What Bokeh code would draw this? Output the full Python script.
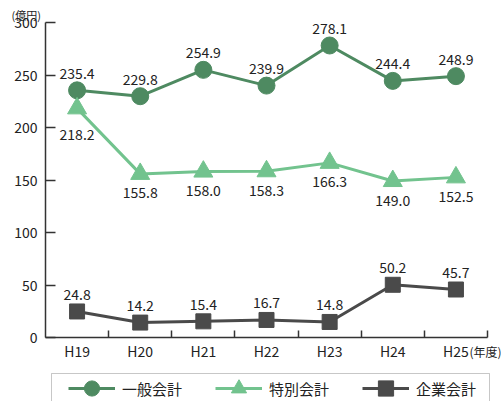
from bokeh.plotting import figure
from bokeh.models import (Range1d, FixedTicker, ColumnDataSource, LinearAxis,
                          LabelSet, Label, Legend, LegendItem, BoxAnnotation)
from bokeh.embed import file_html
from bokeh.resources import INLINE
from bokeh.core.properties import value

years = ["H19", "H20", "H21", "H22", "H23", "H24", "H25"]
general = [235.4, 229.8, 254.9, 239.9, 278.1, 244.4, 248.9]
special = [218.2, 155.8, 158.0, 158.3, 166.3, 149.0, 152.5]
enterprise = [24.8, 14.2, 15.4, 16.7, 14.8, 50.2, 45.7]
series_names = ["一般会計", "特別会計", "企業会計"]
y_ticks = [0, 50, 100, 150, 200, 250, 300]
y_unit = "(億円)"
x_unit = "(年度)"

FONT = "Noto Sans CJK JP"
C_GEN = "#4e8a61"
C_SPE = "#72c38e"
C_ENT = "#4a4a4a"
TXT = "#222222"
AX = "#333333"

n = len(years)
xpos = [i + 0.5 for i in range(n)]          # category centres
bounds = [i for i in range(1, n + 1)]       # category boundaries

W, H = 501, 401
# plot area: x 0..n spans px 45..487, y 0..300 spans px 337..22
px_x = (487 - 45) / n
px_y = (337 - 22) / 300
x_rng = Range1d(-45 / px_x, n + (W - 487) / px_x)
y_rng = Range1d(-(H - 337) / px_y, 300 + 22 / px_y)

p = figure(x_range=x_rng, y_range=y_rng, width=W, height=H,
           min_border=0, x_axis_type=None, y_axis_type=None,
           output_backend="svg", toolbar_location=None)
p.outline_line_color = None
p.grid.visible = False

yax = LinearAxis(fixed_location=0, bounds=(0, 300),
                 ticker=FixedTicker(ticks=y_ticks))
yax.major_tick_in = 10
yax.major_tick_out = 0
yax.minor_tick_line_color = None
yax.axis_line_color = AX
yax.axis_line_width = 1.5
yax.major_tick_line_color = AX
yax.major_tick_line_width = 1.5
yax.major_label_text_font = FONT
yax.major_label_text_font_size = "14px"
yax.major_label_text_color = TXT
yax.major_label_standoff = 8
p.add_layout(yax, "left")

xax = LinearAxis(fixed_location=0, bounds=(0, n),
                 ticker=FixedTicker(ticks=xpos, minor_ticks=bounds),
                 major_label_overrides={x: y for x, y in zip(xpos, years)})
xax.major_tick_line_color = None
xax.major_tick_in = 0
xax.major_tick_out = 0
xax.minor_tick_in = 7
xax.minor_tick_out = 0
xax.minor_tick_line_color = AX
xax.minor_tick_line_width = 1.5
xax.axis_line_color = AX
xax.axis_line_width = 1.5
xax.major_label_text_font = FONT
xax.major_label_text_font_size = "14px"
xax.major_label_text_color = TXT
xax.major_label_standoff = 3
p.add_layout(xax, "below")

spe_off = [-26] + [-19] * (n - 1)
src = ColumnDataSource(dict(x=xpos, gen=general, spe=special, ent=enterprise,
                            gen_t=[f"{v:.1f}" for v in general],
                            spe_t=[f"{v:.1f}" for v in special],
                            ent_t=[f"{v:.1f}" for v in enterprise],
                            spe_off=spe_off))

l1 = p.line("x", "gen", source=src, line_color=C_GEN, line_width=3)
m1 = p.scatter("x", "gen", source=src, marker="circle", size=17,
               fill_color=C_GEN, line_color=C_GEN)
l2 = p.line("x", "spe", source=src, line_color=C_SPE, line_width=3)
m2 = p.scatter("x", "spe", source=src, marker="triangle", size=19,
               fill_color=C_SPE, line_color=C_SPE)
l3 = p.line("x", "ent", source=src, line_color=C_ENT, line_width=3)
m3 = p.scatter("x", "ent", source=src, marker="square", size=15,
               fill_color=C_ENT, line_color=C_ENT)

common = dict(text_font=value(FONT), text_font_size="14px", text_color=TXT,
              text_align="center", text_baseline="middle")
p.add_layout(LabelSet(x="x", y="gen", text="gen_t", source=src, y_offset=17, **common))
p.add_layout(LabelSet(x="x", y="spe", text="spe_t", source=src, y_offset="spe_off", **common))
p.add_layout(LabelSet(x="x", y="ent", text="ent_t", source=src, y_offset=17, **common))

p.add_layout(Label(x=11, y=H - 14, x_units="screen", y_units="screen", text=y_unit,
                   text_font=FONT, text_font_size="11px", text_color=TXT,
                   text_baseline="middle"))
p.add_layout(Label(x=469, y=H - 351, x_units="screen", y_units="screen", text=x_unit,
                   text_font=FONT, text_font_size="12px", text_color=TXT,
                   text_baseline="middle"))

# legend box (bottom edge runs off the picture, as in the original)
p.add_layout(BoxAnnotation(left=51, right=489, top=H - 373, bottom=-20,
                           left_units="screen", right_units="screen",
                           top_units="screen", bottom_units="screen",
                           fill_color=None, line_color="#444444", line_width=1))
legend = Legend(items=[LegendItem(label=series_names[0], renderers=[l1, m1]),
                       LegendItem(label=series_names[1], renderers=[l2, m2]),
                       LegendItem(label=series_names[2], renderers=[l3, m3])],
                orientation="horizontal", location=(68, -6),
                padding=0, spacing=33, glyph_width=47, glyph_height=38,
                label_standoff=7, label_width=60, label_height=16,
                label_text_font=FONT, label_text_font_size="15px",
                label_text_color=TXT, border_line_color=None,
                background_fill_alpha=0, margin=0)
p.add_layout(legend)

open("out.html", "w").write(file_html(p, INLINE))
